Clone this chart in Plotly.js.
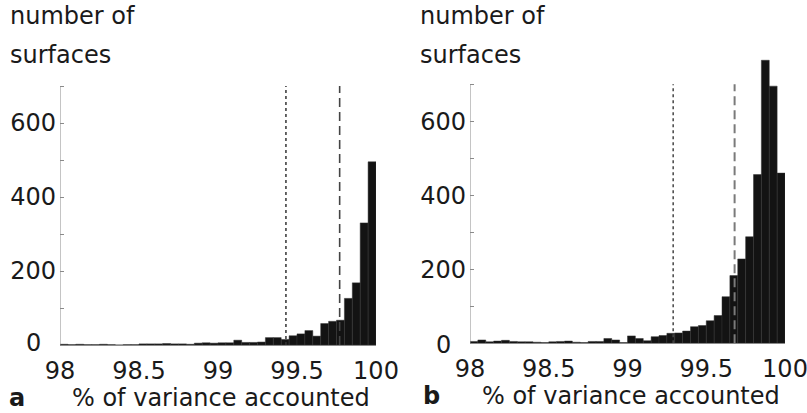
<!DOCTYPE html>
<html>
<head>
<meta charset="utf-8">
<script src="https://cdn.plot.ly/plotly-3.0.1.min.js"></script>
<style>html,body{margin:0;padding:0;background:#fff;}#chart{width:807px;height:413px;}</style>
</head>
<body>
<div id="chart"></div>
<script>
// ---- data ----
var binStart = 98.0;      // first bin left edge
var binWidth = 0.05;      // histogram bin width
var countsA = [2, 1, 2, 1, 1, 2, 1, 0, 1, 1, 3, 3, 3, 4, 3, 3, 2, 5, 6, 5,
               6, 6, 13, 7, 7, 8, 20, 20, 15, 25, 30, 39, 24, 58, 64, 67, 126, 168, 330, 495];
var countsB = [5, 9, 4, 6, 8, 5, 4, 4, 3, 2, 4, 5, 6, 3, 2, 5, 5, 13, 9, 2,
               20, 13, 7, 18, 21, 27, 28, 33, 45, 48, 61, 75, 126, 183, 228, 288, 456, 765, 695, 460];
var dottedA = 99.43, dashedA = 99.77;
var dottedB = 99.29, dashedB = 99.68;
var xTickVals = [98, 98.5, 99, 99.5, 100];
var xTickText = ['98', '98.5', '99', '99.5', '100'];
var yTickVals = [100, 200, 300, 400, 500, 600, 700];
var yTickText = ['', '200', '', '400', '', '600', ''];
var yAxisTop = 700;
var yTitle = ['number of', 'surfaces'];
var xTitle = '% of variance accounted';
var panelLabels = ['a', 'b'];

// ---- build ----
function binLefts(n) { var a = []; for (var i = 0; i < n; i++) a.push(binStart + i * binWidth); return a; }
var FONT = 'DejaVu Sans';
var TXT = '#1a1a1a';
var AX = '#8a8a8a';

function vline(x, xa, ya, dash, color, w) {
  return {x: [x, x], y: [0, yAxisTop], xaxis: xa, yaxis: ya, mode: 'lines', hoverinfo: 'skip',
          line: {color: color, width: w, dash: dash}, showlegend: false, type: 'scatter'};
}
function bars(counts, xa, ya) {
  return {type: 'bar', x: binLefts(counts.length), y: counts, width: binWidth, offset: 0,
          xaxis: xa, yaxis: ya, showlegend: false,
          marker: {color: '#131313', line: {color: '#333333', width: 0.5}}};
}

var data = [
  vline(dottedA, 'x', 'y', 'dot', '#333333', 1.5),
  vline(dashedA, 'x', 'y', '9px,5px', '#444444', 1.6),
  bars(countsA, 'x', 'y'),
  vline(dottedB, 'x2', 'y2', 'dot', '#444444', 1.5),
  vline(dashedB, 'x2', 'y2', '9px,5px', '#7a7a7a', 2),
  bars(countsB, 'x2', 'y2')
];

function xax(domain, anchor) {
  return {domain: domain, anchor: anchor, range: [98, 100], tickmode: 'array', tickvals: xTickVals, ticktext: xTickText,
          showline: true, linecolor: AX, linewidth: 1, ticks: '', showgrid: false, zeroline: false,
          ticklabeloverflow: 'allow',
          tickfont: {family: FONT, size: 24, color: TXT}, ticklabelstandoff: 4};
}
function yax(domain, anchor) {
  return {domain: domain, anchor: anchor, range: [0, 780], tickmode: 'array', tickvals: yTickVals, ticktext: yTickText,
          showline: false, ticks: 'inside', ticklen: 4, tickcolor: AX, tickwidth: 1, showgrid: false, zeroline: false,
          ticklabeloverflow: 'allow',
          tickfont: {family: FONT, size: 24, color: TXT}, ticklabelstandoff: 3};
}

var W = 807, H = 413;
var layout = {
  width: W, height: H, margin: {l: 0, r: 0, t: 0, b: 0}, paper_bgcolor: '#fff', plot_bgcolor: 'rgba(0,0,0,0)',
  bargap: 0, showlegend: false,
  font: {family: FONT, color: TXT, size: 24},
  xaxis: xax([60 / W, 376 / W], 'y'),
  yaxis: yax([(H - 345) / H, (H - 56.4) / H], 'x'),
  xaxis2: xax([470 / W, 785 / W], 'y2'),
  yaxis2: yax([(H - 343.3) / H, (H - 54.7) / H], 'x2'),
  shapes: [
    {type: 'line', xref: 'x', yref: 'y', x0: 98, x1: 98, y0: 0, y1: yAxisTop, line: {color: AX, width: 1}},
    {type: 'line', xref: 'x2', yref: 'y2', x0: 98, x1: 98, y0: 0, y1: yAxisTop, line: {color: AX, width: 1}}
  ],
  annotations: [
    {xref: 'paper', yref: 'paper', x: 8 / W, y: (H - 24) / H, xanchor: 'left', yanchor: 'bottom', yshift: -8, text: yTitle[0], showarrow: false, font: {size: 24}},
    {xref: 'paper', yref: 'paper', x: 8 / W, y: (H - 63) / H, xanchor: 'left', yanchor: 'bottom', yshift: -8, text: yTitle[1], showarrow: false, font: {size: 24}},
    {xref: 'paper', yref: 'paper', x: 418 / W, y: (H - 24) / H, xanchor: 'left', yanchor: 'bottom', yshift: -8, text: yTitle[0], showarrow: false, font: {size: 24}},
    {xref: 'paper', yref: 'paper', x: 418 / W, y: (H - 63) / H, xanchor: 'left', yanchor: 'bottom', yshift: -8, text: yTitle[1], showarrow: false, font: {size: 24}},
    {xref: 'paper', yref: 'paper', x: 221 / W, y: (H - 398) / H, xanchor: 'center', yanchor: 'middle', text: xTitle, showarrow: false, font: {size: 24}},
    {xref: 'paper', yref: 'paper', x: 631 / W, y: (H - 396) / H, xanchor: 'center', yanchor: 'middle', text: xTitle, showarrow: false, font: {size: 24}},
    {xref: 'paper', yref: 'paper', x: 7 / W, y: (H - 398) / H, xanchor: 'left', yanchor: 'middle', text: '<b>' + panelLabels[0] + '</b>', showarrow: false, font: {size: 24}},
    {xref: 'paper', yref: 'paper', x: 421 / W, y: (H - 396) / H, xanchor: 'left', yanchor: 'middle', text: '<b>' + panelLabels[1] + '</b>', showarrow: false, font: {size: 24}},
    {xref: 'x', yref: 'y', x: 98, y: 0, xanchor: 'right', yanchor: 'middle', xshift: -17, yshift: 2, text: '0', showarrow: false, font: {size: 24}},
    {xref: 'x2', yref: 'y2', x: 98, y: 0, xanchor: 'right', yanchor: 'middle', xshift: -17, yshift: -2, text: '0', showarrow: false, font: {size: 24}}
  ]
};

Plotly.newPlot('chart', data, layout, {staticPlot: true, displayModeBar: false});
</script>
</body>
</html>
